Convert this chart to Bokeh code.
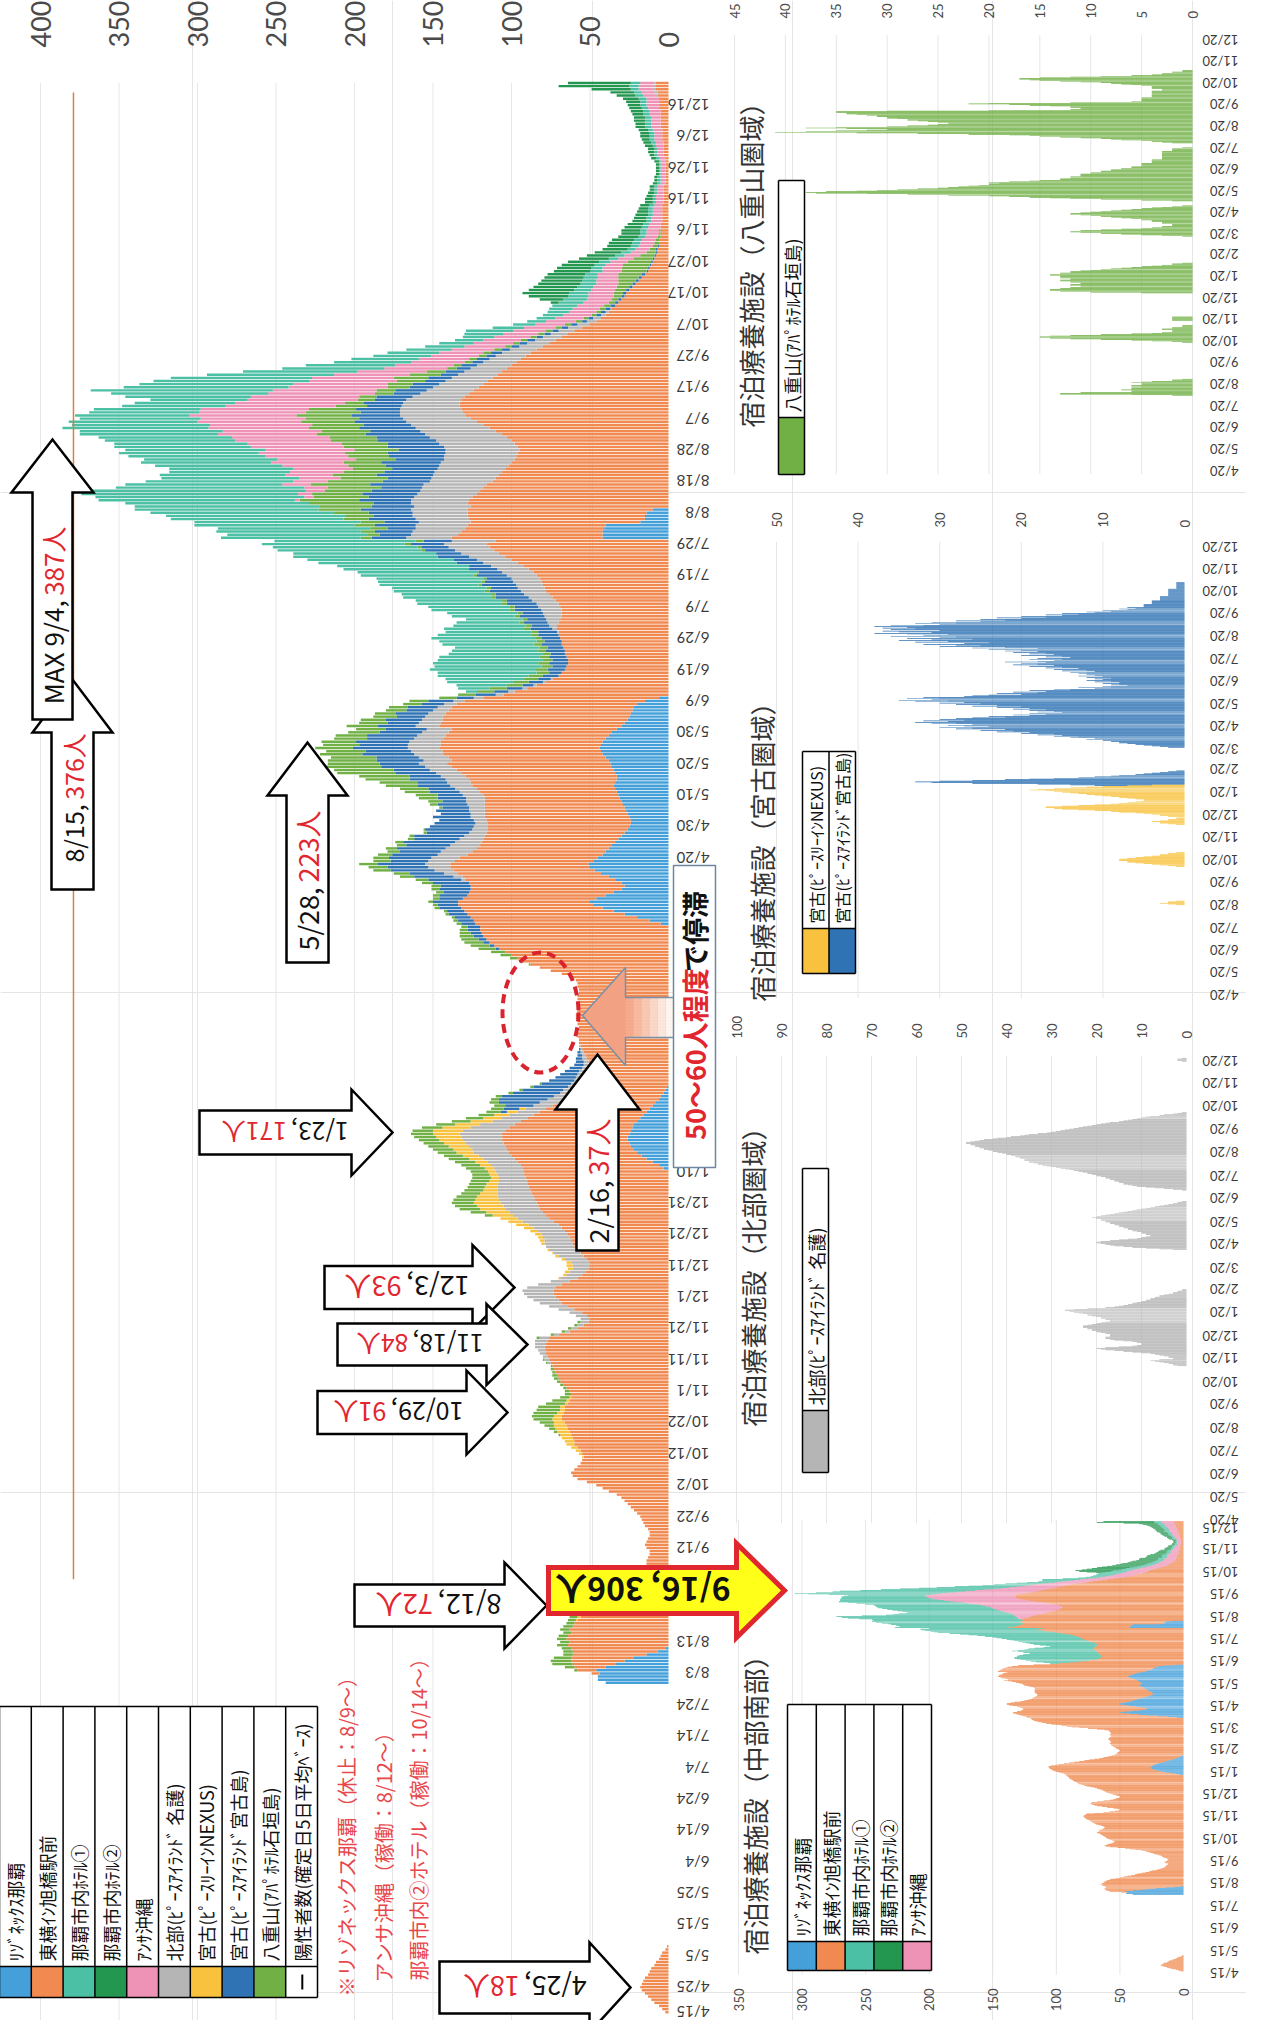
import math
import numpy as np
import pandas as pd
from bokeh.plotting import figure
from bokeh.models import Range1d, LinearAxis, FixedTicker
from bokeh.core.properties import value
from bokeh.embed import file_html
from bokeh.resources import INLINE

START = pd.Timestamp("2020-04-15")
END = pd.Timestamp("2021-12-23")
N = (END - START).days + 1


def day(s):
    return (pd.Timestamp(s) - START).days


# ------------------------------------------------------------------ data
facility_names = ["ﾘｿﾞﾈｯｸｽ那覇", "東横ｲﾝ旭橋駅前", "那覇市内ﾎﾃﾙ①", "那覇市内ﾎﾃﾙ②", "ｱﾝｻ沖縄",
                  "北部(ﾋﾟｰｽｱｲﾗﾝﾄﾞ 名護)", "宮古(ﾋﾟｰｽﾘｰｲﾝNEXUS)", "宮古(ﾋﾟｰｽｱｲﾗﾝﾄﾞ宮古島)",
                  "八重山(ｱﾊﾟﾎﾃﾙ石垣島)"]
facility_colors = ["#45A0DA", "#F08A50", "#4BC0A5", "#23964F", "#EE92B6",
                   "#B5B5B5", "#F8C23E", "#2F73B4", "#70B045"]
positive_label = "陽性者数(確定日5日平均ﾍﾞｰｽ)"

# daily occupancy, as (first day, daily values)
resonex_segments = [
    ("2020-07-31", [40, 45, 45, 44, 46, 40, 34, 28, 22, 14, 7, 2]),
    ("2021-01-11", [3, 6, 10, 14, 17, 20, 22, 24, 25, 26, 26, 25, 24, 23, 22, 20, 18, 16, 14, 12, 10, 8, 6, 5, 3, 2, 1]),
    ("2021-03-30", [5, 12]),
    ("2021-04-01", [20, 28, 35, 42, 48, 50, 46, 40, 35, 30, 28, 30, 34, 38, 43, 47, 50, 51, 48, 45, 42, 40, 38, 36, 34, 32, 30, 28, 26, 25]),
    ("2021-05-01", [24, 24, 25, 26, 27, 28, 29, 30, 31, 32, 33, 34, 35, 34, 33, 33, 34, 35, 36, 37, 38, 40, 42, 43, 44, 43, 42, 40, 38, 36, 33]),
    ("2021-06-01", [30, 28, 26, 25, 24, 23, 22, 20, 15, 6]),
    ("2021-07-31", [42, 42, 42, 41, 40, 18, 15, 15, 14, 10]),
]
toyoko_segments = [
    ("2020-04-17", [2, 4, 6, 9, 11, 13, 15, 17, 18, 17, 16, 15, 13, 12, 11, 9, 8, 6, 5, 4, 2, 1]),
    ("2020-08-03", [5, 12, 20, 27, 34, 40, 47, 54, 60, 64, 63, 65, 64, 62, 63, 61, 60, 58, 56, 53, 50, 47, 44, 41, 38, 36, 33, 30, 27]),
    ("2020-09-01", [25, 22, 20, 18, 16, 15, 14, 14, 13, 12, 12, 14, 15, 14, 13, 12, 12, 13, 15, 16, 17, 18, 20, 22, 24, 26, 28, 30, 33, 38]),
    ("2020-10-01", [42, 46, 52, 58, 61, 62, 60, 58, 56, 55, 54, 55, 56, 58, 60, 60, 61, 62, 63, 64, 65, 66, 68, 68, 67, 66, 66, 64, 63, 62, 62]),
    ("2020-11-01", [63, 65, 67, 69, 70, 71, 72, 73, 74, 75, 76, 77, 78, 78, 79, 78, 77, 76, 70, 63, 58, 54, 51, 50, 52, 55, 60, 64, 68, 70]),
    ("2020-12-01", [72, 73, 73, 72, 68, 63, 58, 55, 53, 51, 50, 50, 52, 54, 56, 58, 60, 61, 62, 63, 64, 66, 68, 70, 73, 76, 78, 80, 82, 83, 84]),
    ("2021-01-01", [85, 86, 87, 88, 89, 90, 90, 91, 92, 92, 90, 88, 86, 84, 83, 82, 81, 80, 80, 80, 80, 81, 80, 78, 76, 74, 72, 70, 68, 66, 64]),
    ("2021-02-01", [62, 60, 58, 57, 56, 55, 54, 53, 52, 52, 51, 50, 50, 51, 52, 53, 54, 55, 56, 57, 57, 58, 58, 57, 57, 58, 58, 59]),
    ("2021-03-01", [59, 58, 58, 57, 57, 58, 58, 57, 57, 58, 58, 59, 62, 68, 75, 82, 88, 92, 96, 100, 104, 108, 111, 114, 116, 118, 119, 120, 120, 118, 112]),
    ("2021-04-01", [106, 100, 95, 90, 86, 84, 85, 88, 92, 96, 98, 97, 95, 93, 91, 90, 89, 88, 88, 88, 86, 85, 84, 84, 85, 86, 87, 88, 89, 90]),
    ("2021-05-01", [91, 92, 92, 91, 90, 89, 88, 87, 86, 86, 87, 88, 90, 92, 94, 96, 98, 100, 102, 104, 100, 100, 101, 101, 102, 102, 103, 103, 104, 104, 105]),
    ("2021-06-01", [116, 117, 118, 118, 118, 117, 116, 115, 115, 112, 105, 98, 90, 84, 78, 74, 70, 68, 66, 65, 64, 64, 65, 66, 66, 67, 68, 68, 69, 70]),
    ("2021-07-01", [70, 71, 71, 70, 69, 68, 68, 68, 69, 70, 72, 74, 76, 78, 79, 80, 81, 82, 84, 86, 89, 92, 96, 100, 104, 108, 111, 114, 116, 110, 96]),
    ("2021-08-01", [92, 90, 88, 88, 108, 112, 113, 114, 118, 126, 128, 127, 125, 122, 120, 118, 116, 112, 110, 108, 106, 104, 102, 100, 98, 97, 96, 95, 96, 98, 100]),
    ("2021-09-01", [103, 106, 110, 114, 118, 122, 126, 129, 131, 132, 133, 133, 132, 130, 127, 124, 121, 118, 115, 112, 109, 106, 103, 100, 97, 94, 91, 88, 84, 80]),
    ("2021-10-01", [76, 72, 68, 64, 60, 55, 50, 46, 43, 40, 38, 36, 34, 32, 30, 28, 27, 25, 23, 21, 19, 17, 15, 13, 12, 11, 10, 9, 8, 7, 7]),
    ("2021-11-01", [6, 6, 6, 5, 5, 5, 5, 5, 4, 4, 4, 4, 4, 4, 3, 3, 3, 3, 3, 3, 2, 2, 2, 2, 2, 2, 2, 2, 2, 3]),
    ("2021-12-01", [3, 3, 3, 3, 4, 4, 4, 4, 5, 5, 5, 5, 5, 5, 6, 6, 6, 6, 7, 7, 8, 8, 8]),
]
naha1_segments = [
    ("2021-06-12", [7, 20, 32, 42, 50, 58, 63, 67, 68, 67, 67, 64, 60, 55, 54, 58, 62, 66, 60]),
    ("2021-07-01", [55, 51, 46, 40, 36, 40, 45, 50, 52, 54, 55, 56, 57, 58, 60, 63, 66, 68, 72, 76, 80, 84, 88, 93, 92, 91, 92, 92, 91, 90, 89]),
    ("2021-08-01", [89, 92, 97, 102, 106, 110, 114, 117, 117, 118, 117, 125, 133, 138, 141, 120, 100, 94, 88, 80, 77, 79, 81, 83, 85, 87, 89, 89, 87, 85, 83]),
    ("2021-09-01", [85, 88, 91, 93, 88, 82, 77, 73, 70, 68, 66, 64, 62, 80, 100, 116, 105, 98, 99, 90, 81, 73, 65, 57, 49, 43, 37, 33, 29, 25]),
    ("2021-10-01", [22, 18, 20, 25, 30, 20, 14, 12, 12, 13, 14, 15, 16, 16, 15, 13, 12, 11, 10, 10, 9, 9, 8, 8, 7, 7, 7, 6, 6, 6, 5]),
    ("2021-11-01", [5, 5, 5, 4, 4, 4, 4, 4, 3, 3, 3, 3, 3, 3, 2, 2, 2, 2, 2, 2, 2, 2, 2, 1, 1, 1, 1, 1, 2, 2]),
    ("2021-12-01", [2, 2, 2, 3, 3, 3, 3, 3, 4, 4, 4, 4, 4, 4, 4, 4, 4, 5, 5, 5, 5, 6, 6]),
]
naha2_segments = [
    ("2021-10-14", [5, 15, 25, 30, 29, 28, 27, 26, 25, 24, 23, 22, 21, 20, 19, 18, 17, 16]),
    ("2021-11-01", [15, 15, 14, 13, 12, 12, 11, 10, 9, 8, 8, 7, 6, 6, 5, 5, 4, 4, 3, 3, 3, 2, 2, 2, 2, 2, 2, 3, 3, 3]),
    ("2021-12-01", [4, 4, 5, 5, 5, 6, 6, 6, 6, 6, 7, 7, 7, 8, 8, 8, 9, 10, 12, 15, 25, 45, 40]),
]
ansa_segments = [
    ("2021-08-12", [3, 6, 9, 12, 15, 18, 22, 26, 30, 34, 38, 42, 46, 50, 53, 55, 57, 59, 60, 61]),
    ("2021-09-01", [62, 63, 63, 64, 65, 66, 67, 68, 68, 69, 70, 70, 70, 69, 68, 66, 63, 60, 56, 52, 48, 44, 40, 37, 34, 32, 30, 28, 27, 26]),
    ("2021-10-01", [25, 24, 23, 22, 21, 20, 19, 19, 18, 18, 17, 17, 17, 16, 16, 16, 16, 15, 15, 14, 14, 13, 13, 12, 12, 11, 11, 10, 10, 10, 9]),
    ("2021-11-01", [9, 9, 9, 8, 8, 8, 8, 7, 7, 7, 6, 6, 6, 5, 5, 5, 5, 4, 4, 4, 3, 3, 3, 3, 3, 3, 3, 3, 4, 4]),
    ("2021-12-01", [4, 4, 5, 5, 5, 5, 5, 6, 6, 6, 6, 6, 7, 7, 7, 8, 8, 8, 8, 8, 9, 9, 9]),
]
hokubu_segments = [
    ("2020-11-10", [2, 3, 3, 4, 5, 6, 7, 8, 6, 3, 3, 4, 4, 5, 6, 7, 8, 10, 12, 14, 16]),
    ("2020-12-01", [18, 19, 20, 18, 15, 12, 11, 10, 10, 10, 11, 12, 14, 16, 17, 18, 18, 18, 17, 17, 17, 17, 18, 19, 20, 20, 21, 21, 22, 22, 23]),
    ("2021-01-01", [23, 23, 22, 21, 20, 19, 18, 17, 17, 18, 18, 19, 19, 20, 21, 22, 22, 23, 24, 25, 26, 27, 27, 25, 22, 18, 16, 15, 14, 13, 12]),
    ("2021-02-01", [12, 11, 10, 9, 9, 8, 8, 7, 7, 6, 6, 5, 4, 3, 3, 2, 2, 1, 1]),
    ("2021-04-13", [3, 6, 9, 12, 14, 16, 17, 18, 19, 20, 20, 19, 17, 15, 13, 11, 10, 9]),
    ("2021-05-01", [8, 8, 9, 9, 10, 10, 11, 12, 12, 13, 13, 14, 14, 15, 15, 16, 16, 17, 17, 18, 18, 19, 19, 20, 20, 21, 20, 19, 18, 17, 16]),
    ("2021-06-01", [15, 14, 13, 12, 11, 10, 9, 8, 7, 6, 5, 4, 3, 2, 2, 1]),
    ("2021-07-01", [1, 3, 5, 7, 9, 11, 12, 13, 14, 14, 15, 15, 16, 16, 17, 17, 18, 18, 19, 20, 20, 21, 22, 22, 23, 24, 25, 26, 27, 28, 29]),
    ("2021-08-01", [30, 31, 32, 33, 33, 34, 35, 35, 36, 36, 36, 37, 37, 38, 38, 39, 40, 40, 41, 42, 43, 43, 44, 45, 45, 46, 46, 47, 47, 48, 48]),
    ("2021-09-01", [49, 49, 48, 47, 46, 45, 43, 42, 40, 39, 37, 36, 35, 33, 31, 30, 29, 28, 27, 26, 25, 24, 23, 22, 21, 20, 19, 18, 17, 15]),
    ("2021-10-01", [14, 13, 12, 11, 10, 9, 8, 6, 5, 3, 2, 1]),
    ("2021-12-19", [1, 2, 2, 2, 1]),
]
nexus_segments = [
    ("2020-08-20", [1, 2, 3, 2, 2, 1]),
    ("2020-10-11", [1, 2, 3, 4, 5, 6, 7, 7, 8, 8, 8, 7, 6, 5, 4, 3, 3, 2, 2, 1]),
    ("2020-12-07", [1, 2, 3, 3, 4, 3, 2, 2, 1, 1]),
    ("2020-12-18", [2, 3, 3, 4, 5, 6, 8, 9, 11, 13, 15, 16, 17, 17]),
    ("2021-01-01", [15, 13, 11, 9, 8, 7, 6, 5, 5, 5, 6, 7, 8, 9, 10, 11, 12, 13, 14, 15, 16, 17, 19, 18, 16, 14, 12, 10, 7, 4]),
]
miyako_segments = [
    ("2021-01-29", [4, 10, 18, 26, 31, 33, 30, 26, 22, 19, 16, 13, 11, 9, 8, 6, 5, 4, 3, 2, 1]),
    ("2021-03-22", [2, 3, 4, 5, 6, 7, 8, 8, 9, 10]),
    ("2021-04-01", [10, 12, 11, 14, 13, 16, 15, 18, 16, 20, 19, 23, 21, 25, 22, 28, 26, 30, 24, 27, 29, 26, 31, 28, 33, 29, 32, 27, 30, 28]),
    ("2021-05-01", [26, 22, 24, 19, 21, 17, 19, 15, 18, 16, 19, 17, 21, 19, 23, 20, 26, 23, 28, 25, 30, 27, 33, 29, 35, 31, 34, 30, 32, 27, 26]),
    ("2021-06-01", [24, 20, 23, 18, 21, 17, 19, 14, 16, 11, 13, 9, 10, 7, 9, 8, 10, 8, 11, 9, 12, 10, 11, 9, 12, 10, 13, 11, 12, 13]),
    ("2021-07-01", [12, 14, 11, 15, 12, 16, 13, 17, 15, 19, 16, 21, 18, 20, 17, 22, 18, 16, 19, 15, 18, 14, 17, 15, 20, 16, 19, 17, 21, 18, 22]),
    ("2021-08-01", [20, 24, 18, 26, 22, 30, 25, 28, 32, 27, 24, 33, 29, 35, 31, 26, 34, 30, 28, 36, 32, 29, 34, 38, 31, 35, 37, 30, 36, 33, 37]),
    ("2021-09-01", [34, 38, 32, 36, 30, 33, 28, 31, 25, 28, 22, 25, 20, 23, 17, 20, 15, 17, 13, 15, 11, 12, 9, 10, 7, 8, 6, 7, 5, 5]),
    ("2021-10-01", [5, 5, 4, 4, 4, 4, 4, 3, 3, 3, 3, 3, 3, 2, 2, 2, 2, 2, 2, 2, 2, 2, 2, 1, 1, 1, 1, 1, 1, 1, 1, 1]),
]
yaeyama_segments = [
    ("2020-08-04", [2, 6, 13, 13, 11, 6, 6, 6, 7, 6, 6, 6, 5, 6, 6, 5, 5, 5, 6, 5, 4, 2, 2, 1]),
    ("2020-10-18", [1, 2, 4, 6, 9, 12, 14, 15, 15, 14, 12, 9, 6, 4, 3, 2, 2, 2, 3, 3, 2, 2, 1, 1, 1]),
    ("2020-11-18", [2, 2, 2, 2, 2, 2]),
    ("2020-12-27", [5, 10, 13, 14, 14]),
    ("2021-01-01", [14, 13, 12, 12, 11, 11, 12, 12, 11, 11, 12, 12, 13, 13, 12, 12, 13, 13, 13, 13, 14, 14, 13, 13, 12, 12, 11, 10, 9, 8, 7]),
    ("2021-02-01", [6, 5, 4, 3, 2, 2, 1]),
    ("2021-03-17", [1, 3, 5, 7, 9, 11, 12, 12, 11, 9, 7, 5, 4, 3, 3]),
    ("2021-04-01", [2, 2, 2, 3, 3, 3, 4, 4, 5, 5, 6, 7, 8, 9, 10, 11, 12, 12, 11, 10, 9, 8, 7, 6, 5, 4, 3, 2, 1]),
    ("2021-05-06", [2, 5, 9, 12, 14, 16, 18, 20, 24, 28, 32, 37, 38, 36, 33, 31, 29, 27, 25, 24, 23, 22, 21, 20, 20, 19]),
    ("2021-06-01", [20, 18, 16, 15, 13, 13, 12, 12, 12, 11, 11, 11, 11, 10, 10, 9, 9, 8, 8, 7, 7, 6, 6, 5, 5, 5, 5, 5, 4, 4]),
    ("2021-07-01", [4, 4, 4, 3, 3, 3, 3, 3, 3, 3, 3, 3, 3, 3, 3, 2, 2, 2, 2, 1]),
    ("2021-07-27", [2, 3, 4, 5, 7]),
    ("2021-08-01", [8, 9, 11, 13, 15, 16, 18, 22, 27, 33, 41, 38, 35, 32, 30, 34, 38, 35, 30, 28, 26, 25, 24, 24, 25, 26, 27, 28, 28, 29, 30]),
    ("2021-09-01", [30, 31, 31, 32, 33, 34, 34, 35, 35, 30, 20, 12, 11, 11, 12, 12, 14, 16, 18, 22, 20, 12, 6, 5, 5, 5, 5, 5, 5, 4]),
    ("2021-10-01", [4, 4, 4, 4, 4, 4, 4, 4, 3, 3, 3, 4, 4, 4, 4, 5, 6, 7, 8, 9, 11, 13, 15, 16, 17, 17, 15, 12, 9, 6, 4]),
    ("2021-11-01", [3, 3, 2, 2, 1, 1]),
]

# reference line drawn across the main chart
ref_line_value = 379
ref_line_dates = ["2020-09-02", "2021-12-20"]

# axis ticks
main_value_ticks = list(range(0, 401, 50))
main_date_ticks = list(range(0, 611, 10))
main_date_labels = [f"{(START + pd.Timedelta(days=d)).month}/{(START + pd.Timedelta(days=d)).day}" for d in main_date_ticks]
month20 = [pd.Timestamp(2020 + (3 + k) // 12, (3 + k) % 12 + 1, 20) for k in range(21)]
month15 = [pd.Timestamp(2020 + (3 + k) // 12, (3 + k) % 12 + 1, 15) for k in range(21)]
panel_date_ticks = [(t - START).days for t in month20]
panel_date_labels = [f"{t.month}/{t.day}" for t in month20]
south_date_ticks = [(t - START).days for t in month15]
south_date_labels = [f"{t.month}/{t.day}" for t in month15]


def daily(segs):
    a = np.zeros(N)
    for s, vals in segs:
        i = day(s)
        v = np.asarray(vals, dtype=float)
        j = min(N, i + len(v))
        a[i:j] = v[: j - i]
    return a


resonex = daily(resonex_segments)
toyoko = daily(toyoko_segments)
naha1 = daily(naha1_segments)
naha2 = daily(naha2_segments)
ansa = daily(ansa_segments)
hokubu = daily(hokubu_segments)
nexus = daily(nexus_segments)
miyako = daily(miyako_segments)
yaeyama = daily(yaeyama_segments)
COL = dict(zip(["resonex", "toyoko", "naha1", "naha2", "ansa", "hokubu", "nexus", "miyako", "yaeyama"], facility_colors))

# ------------------------------------------------------------------ figure
W, H = 1246, 2020
X0, X1, Y0, Y1 = 8, 8 + W, 8, 8 + H   # reference-pixel coordinates
p = figure(width=W, height=H, x_range=Range1d(X0, X1), y_range=Range1d(Y1, Y0),
           output_backend="svg", toolbar_location=None, min_border=0, title=None,
           x_axis_location=None, y_axis_location=None, outline_line_color=None,
           background_fill_color="white", border_fill_color="white")


def xrng(ra, va, rb, vb):
    k = (vb - va) / (rb - ra)
    return Range1d(start=va + (X0 - ra) * k, end=va + (X1 - ra) * k)


def yrng(ra, va, rb, vb):
    k = (vb - va) / (rb - ra)
    return Range1d(start=va + (Y1 - ra) * k, end=va + (Y0 - ra) * k)


p.extra_x_ranges = {
    "mv": xrng(676, 0, 48, 400), "yv": xrng(1200, 0, 742, 45), "kv": xrng(1192, 0, 784, 50),
    "nv": xrng(1194, 0, 744, 100), "sv": xrng(1191, 0, 746, 350),
}
p.extra_y_ranges = {
    "md": yrng(2026, 0, 2026 - 3.137 * 610, 610), "yd": yrng(478, 5, 47, 614),
    "kd": yrng(1002, 5, 554, 614), "nd": yrng(1527, 5, 1068, 614), "sd": yrng(1980, 0, 1535, 609),
}

days = np.arange(N)


def grid(xr, yr, ticks, d0, d1):
    t = [v for v in ticks if v > 0]
    p.segment(x0=t, y0=[d0] * len(t), x1=t, y1=[d1] * len(t), line_color="#E6E6E6",
              line_width=1, x_range_name=xr, y_range_name=yr, level="underlay")


def stack(series, colors, xr, yr, h):
    cum = np.zeros(N)
    for vals, col in zip(series, colors):
        m = vals > 0
        p.hbar(y=days[m], left=cum[m], right=(cum + vals)[m], height=h, fill_color=col,
               line_color=None, x_range_name=xr, y_range_name=yr)
        cum = cum + vals


def style_axis(ax, size, color="#4a4a4a"):
    ax.axis_line_color = None
    ax.major_tick_line_color = None
    ax.minor_tick_line_color = None
    ax.major_label_text_font = "Lato"
    ax.major_label_text_font_size = f"{size}px"
    ax.major_label_text_color = color
    ax.major_label_standoff = 2


def value_axis(xr, ticks, loc, side, size):
    ax = LinearAxis(x_range_name=xr, ticker=FixedTicker(ticks=ticks), fixed_location=loc)
    style_axis(ax, size)
    ax.major_label_orientation = math.pi / 2
    p.add_layout(ax, side)


def date_axis(yr, ticks, labels, loc, size):
    ax = LinearAxis(y_range_name=yr, ticker=FixedTicker(ticks=ticks), fixed_location=loc)
    style_axis(ax, size, "#3a3a3a")
    ax.major_label_overrides = {int(t): lab for t, lab in zip(ticks, labels)}
    ax.major_label_orientation = math.pi
    p.add_layout(ax, "right")


# main chart
grid("mv", "md", main_value_ticks, -2, 617)
stack([resonex, toyoko, hokubu, nexus, miyako, yaeyama, ansa, naha1, naha2],
      [COL[k] for k in ["resonex", "toyoko", "hokubu", "nexus", "miyako", "yaeyama", "ansa", "naha1", "naha2"]],
      "mv", "md", 0.78)
p.segment(x0=[ref_line_value], y0=[day(ref_line_dates[0])], x1=[ref_line_value], y1=[day(ref_line_dates[1])],
          line_color="#D9823F", line_width=1.5, x_range_name="mv", y_range_name="md")
value_axis("mv", main_value_ticks, 63, "above", 27)
date_axis("md", main_date_ticks, main_date_labels, 709, 15)

# regional panels
grid("yv", "yd", list(range(0, 46, 5)), 0, 620)
stack([yaeyama], [COL["yaeyama"]], "yv", "yd", 0.9)
value_axis("yv", list(range(0, 46, 5)), 34, "above", 13)
date_axis("yd", panel_date_ticks, panel_date_labels, 1238, 13)

grid("kv", "kd", list(range(0, 51, 10)), 0, 620)
stack([nexus, miyako], [COL["nexus"], COL["miyako"]], "kv", "kd", 0.9)
value_axis("kv", list(range(0, 51, 10)), 543, "above", 13)
date_axis("kd", panel_date_ticks, panel_date_labels, 1238, 13)

grid("nv", "nd", list(range(0, 101, 10)), 0, 620)
stack([hokubu], [COL["hokubu"]], "nv", "nd", 0.9)
value_axis("nv", list(range(0, 101, 10)), 1054, "above", 13)
date_axis("nd", panel_date_ticks, panel_date_labels, 1238, 13)

grid("sv", "sd", list(range(0, 351, 50)), -3, 620)
stack([resonex, toyoko, ansa, naha1, naha2],
      [COL["resonex"], COL["toyoko"], COL["ansa"], COL["naha1"], COL["naha2"]], "sv", "sd", 0.9)
value_axis("sv", list(range(0, 351, 50)), 1988, "below", 13)
date_axis("sd", south_date_ticks, south_date_labels, 1238, 13)

# ------------------------------------------------------------------ annotations
JP = "Noto Sans CJK JP"
BLACK = "#111111"
RED = "#E1262F"
NOTE_RED = "#E8474C"
UP = math.pi / 2
FLIP = math.pi


def txt(x, y, s, size, color=BLACK, angle=0.0, align="center", baseline="middle", font=JP, style="normal"):
    p.text(x=[x], y=[y], text=[s], angle=angle, text_font=value(font), text_font_size=f"{size:.1f}px",
           text_color=color, text_align=align, text_baseline=baseline, text_font_style=style,
           level="annotation")


def est_w(s, size):
    """approximate advance width of Noto Sans CJK JP text"""
    w = 0.0
    for ch in s:
        if ch.isdigit():
            w += 0.554
        elif ch in "/,. ":
            w += {"/": 0.34, ",": 0.24, ".": 0.24, " ": 0.224}[ch]
        elif ch.isascii():
            w += 0.66
        else:
            w += 1.0
    return w * size


def fit_label(start, end, parts, max_size, angle, gap_em=0.28, style="normal"):
    """lay out coloured parts between `start` and `end` along the reading direction"""
    avail = (start[0] - end[0]) if angle == FLIP else (start[1] - end[1])
    em = sum(est_w(s, 1) for s, _ in parts) + gap_em * (len(parts) - 1)
    size = min(max_size, avail / em)
    off = (avail - em * size) / 2
    x, y = start
    if angle == FLIP:
        x -= off
    else:
        y -= off
    for s, c in parts:
        txt(x, y, s, size, c, angle, "left", "middle", JP, style)
        step = est_w(s, size) + gap_em * size
        if angle == FLIP:
            x -= step
        else:
            y -= step


def right_arrow(x0, x1, xt, yc, bh, hh, fill="white", line="black", lw=2.5):
    xs = [x0, x1, x1, xt, x1, x1, x0]
    ys = [yc - bh, yc - bh, yc - hh, yc, yc + hh, yc + bh, yc + bh]
    p.patch(x=xs, y=ys, fill_color=fill, line_color=line, line_width=lw, line_join="miter", level="annotation")


def up_arrow(xc, y0, y1, yt, bw, hw):
    xs = [xc - bw, xc - bw, xc - hw, xc, xc + hw, xc + bw, xc + bw]
    ys = [y0, y1, y1, yt, y1, y1, y0]
    p.patch(x=xs, y=ys, fill_color="white", line_color="black", line_width=2.5, line_join="miter", level="annotation")


# callout arrows pointing at peaks (upside-down labels): body x0-x1, tip xt, text end
right_arrows = [
    (332, 480, 522, 1295, 21.5, 42.5, 352, "12/3,", "93人"),
    (345, 494, 535, 1352, 21, 40.5, 364, "11/18,", "84人"),
    (325, 474, 515, 1420, 21.5, 42, 341, "10/29,", "91人"),
    (207, 359, 400, 1140, 22, 43, 229, "1/23,", "171人"),
    (362, 512, 554, 1613, 21, 43, 383, "8/12,", "72人"),
    (447, 597, 638, 1995, 26, 45, 471, "4/25,", "18人"),
]
for x0, x1, xt, yc, bh, hh, xe, b, r in right_arrows:
    right_arrow(x0, x1, xt, yc, bh, hh)
    fit_label((x1 - 3, yc), (xe, yc), [(b, BLACK), (r, RED)], 28, FLIP)

# yellow highlighted arrow into the 中部南部 panel
right_arrow(556, 744, 792, 1598, 23, 47, fill="#FFFF1A", line="#E0262E", lw=5)
fit_label((740, 1598), (572, 1598), [("9/16, 306人", BLACK)], 32, FLIP, style="bold")

up_arrows = [
    (605, 1258, 1117, 1062, 21, 42, 1256, 1121, "2/16,", "37人", 27),
    (315, 970, 803, 750, 21, 40, 960, 816, "5/28,", "223人", 27),
    (80, 897, 740, 687, 21, 40, 870, 741, "8/15,", "376人", 27),
    (60, 727, 500, 447, 20, 41, 716, 530, "MAX 9/4,", "387人", 26),
]
for xc, y0, y1, yt, bw, hw, ys, ye, b, r, fs in up_arrows:
    up_arrow(xc, y0, y1, yt, bw, hw)
    fit_label((xc, ys), (xc, ye), [(b, BLACK), (r, RED)], fs, UP)

# stagnation call-out
p.ellipse(x=548, y=1020, width=76, height=120, fill_color=None, line_color="#D9232E",
          line_width=4, line_dash="9 6", level="annotation")
grad = ["#F4AA8B", "#F6B89E", "#F8C7B2", "#FAD6C6", "#FCE6DB", "#FEF4EE"]
for i, c in enumerate(grad):
    p.quad(left=633 + 8 * i, right=641 + 8 * i, top=1005, bottom=1045, fill_color=c, line_color=None, level="annotation")
p.patch(x=[633, 590, 633], y=[975, 1023, 1073], fill_color="#F2A283", line_color=None, level="annotation")
p.line(x=[681, 633, 633, 590, 633, 633, 681], y=[1005, 1005, 975, 1023, 1073, 1045, 1045],
       line_color="#7A90A8", line_width=1.5, level="annotation")
p.quad(left=681, right=723, top=873, bottom=1175, fill_color="white", line_color="#6E86A0",
       line_width=1.5, level="annotation")
fit_label((702, 1166), (702, 880), [("50～60人程度", RED), ("で停滞", BLACK)], 27, UP, gap_em=0.0, style="bold")


# legends
def legend_box(x0, w, y_top, y_bot, patch_top, items, size):
    n = len(items)
    p.quad(left=x0, right=x0 + n * w, top=y_top, bottom=y_bot, fill_color="white", line_color=None, level="annotation")
    for i, (label, color) in enumerate(items):
        xl = x0 + i * w
        if color is not None:
            p.quad(left=xl, right=xl + w, top=patch_top, bottom=y_bot, fill_color=color, line_color=None, level="annotation")
        txt(xl + w / 2, patch_top - 5, label, size, BLACK, UP, "left")
    xs = [[x0 + i * w] * 2 for i in range(n + 1)] + [[x0, x0 + n * w]] * 3
    ys = [[y_top, y_bot] for _ in range(n + 1)] + [[y_top, y_top], [y_bot, y_bot], [patch_top, patch_top]]
    p.multi_line(xs=xs, ys=ys, line_color="black", line_width=1.5, level="annotation")


main_items = [(facility_names[i], facility_colors[i]) for i in range(9)] + [(positive_label, None)]
legend_box(7, 31.8, 1714, 2005, 1974, main_items, 18)
p.segment(x0=[309.8], y0=[1982], x1=[309.8], y1=[1997], line_color="black", line_width=2, level="annotation")

txt(354, 2004, "※リゾネックス那覇（休止：8/9～）", 20, NOTE_RED, UP, "left")
txt(391, 1990, "アンサ沖縄（稼働：8/12～）", 20, NOTE_RED, UP, "left")
txt(426, 1988, "那覇市内②ホテル（稼働：10/14～）", 20, NOTE_RED, UP, "left")

# panel titles and legends
txt(758, 266, "宿泊療養施設（八重山圏域）", 26, "#333333", UP)
txt(769, 853, "宿泊療養施設（宮古圏域）", 26, "#333333", UP)
txt(760, 1278, "宿泊療養施設（北部圏域）", 26, "#333333", UP)
txt(762, 1806, "宿泊療養施設（中部南部）", 26, "#333333", UP)

legend_box(786, 26, 188, 482, 425, [(facility_names[8], facility_colors[8])], 18)
legend_box(810, 26.5, 759, 981, 936, [(facility_names[6], facility_colors[6]), (facility_names[7], facility_colors[7])], 16)
legend_box(810, 26, 1176, 1480, 1418, [(facility_names[5], facility_colors[5])], 18)
legend_box(795, 28.8, 1712, 1978, 1949, [(facility_names[i], facility_colors[i]) for i in range(5)], 18)

open("out.html", "w", encoding="utf-8").write(file_html(p, INLINE, title="宿泊療養施設 入所者数"))
